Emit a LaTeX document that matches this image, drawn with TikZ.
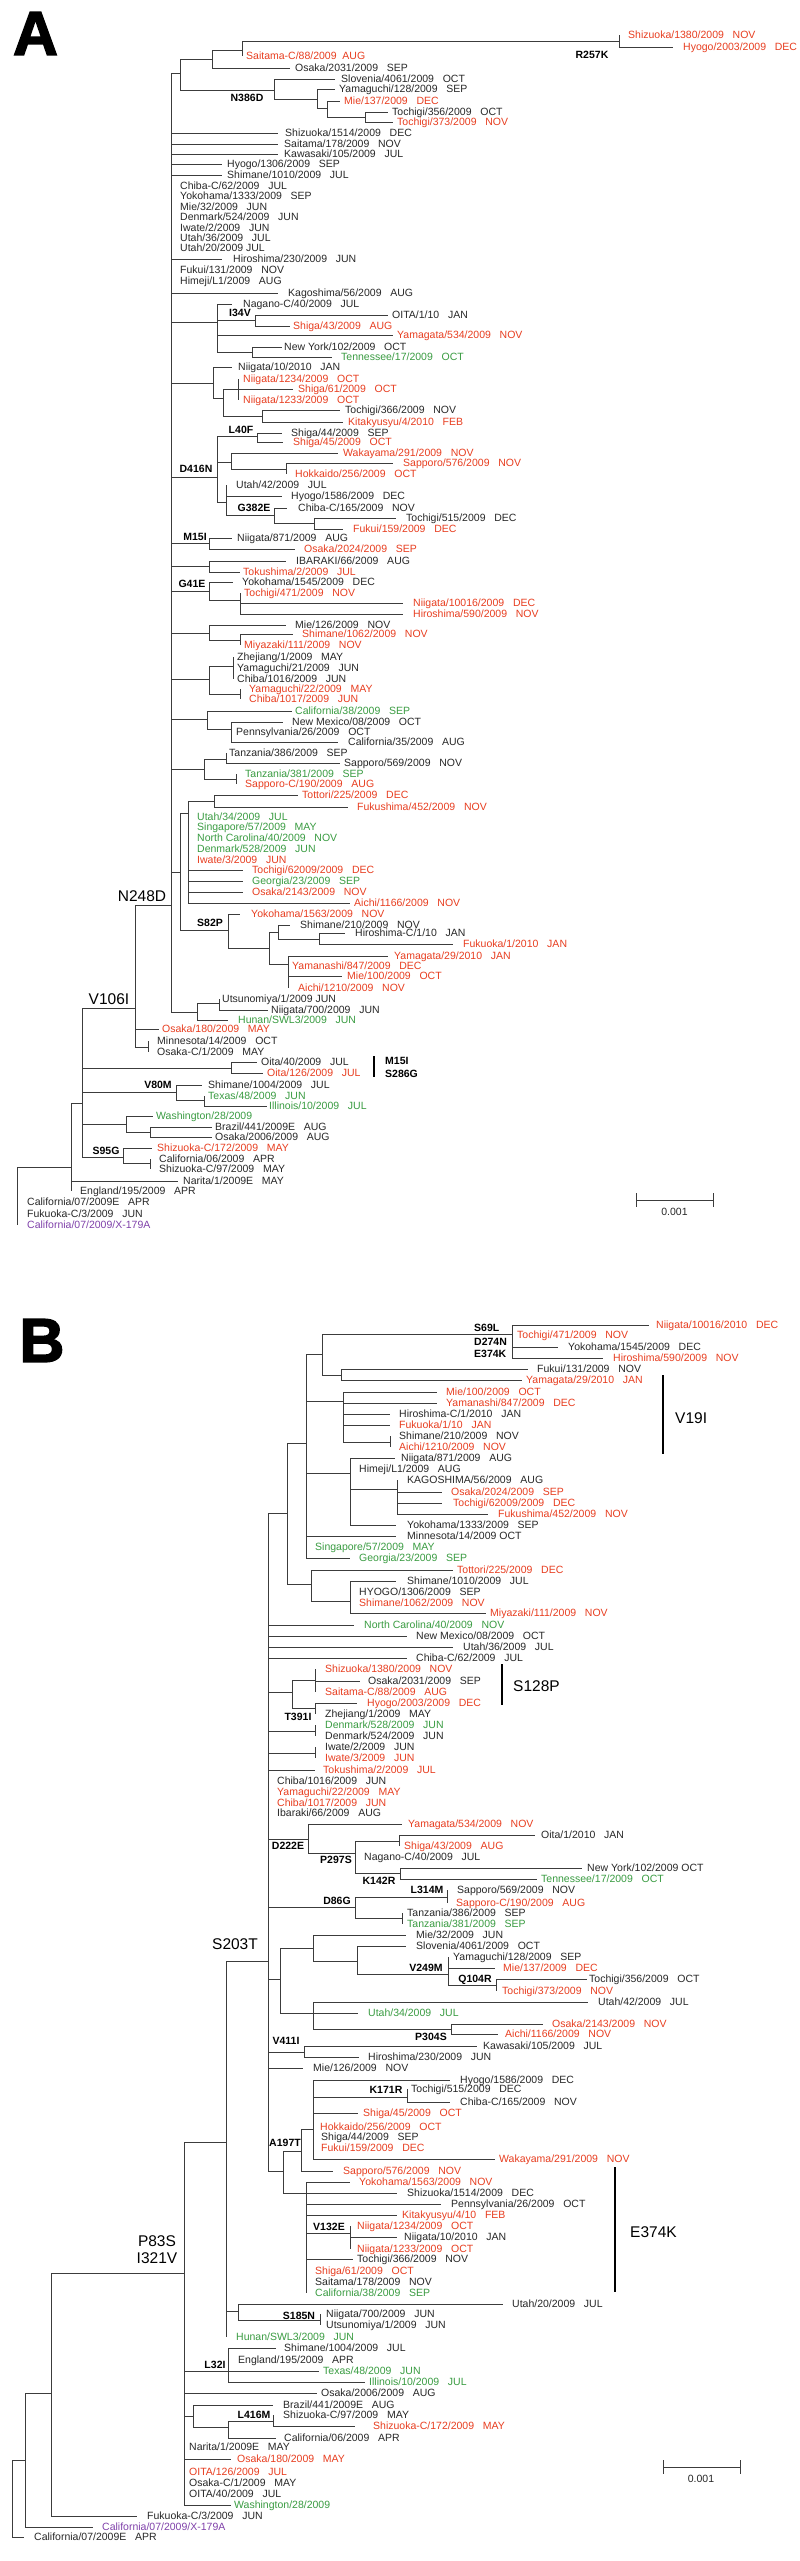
\documentclass[tikz,border=0pt]{standalone}
\usepackage{fontspec}
\setmainfont{Liberation Sans}
\newfontfamily\heavyfont{Liberation Sans Bold}[FakeBold=2.5]
\definecolor{isored}{RGB}{232,62,32}
\definecolor{isogreen}{RGB}{58,156,66}
\definecolor{isopurple}{RGB}{128,66,170}
\definecolor{isotext}{RGB}{40,40,40}
\definecolor{branch}{RGB}{60,60,60}

\tikzset{
  br/.style={draw=branch, line width=0.9pt},
  iso/.style={anchor=west, inner sep=0pt, text height=7.5pt, text depth=0pt,
              font=\fontsize{10.5}{12}\selectfont, text=isotext},
  redtip/.style={text=isored},
  greentip/.style={text=isogreen},
  purpletip/.style={text=isopurple},
  mut/.style={inner sep=0pt, text height=7.6pt, text depth=0pt,
              font=\bfseries\fontsize{10.5}{12}\selectfont},
  bigmut/.style={inner sep=0pt, text height=11pt, text depth=0pt,
                 font=\fontsize{15.5}{18}\selectfont},
  barline/.style={draw=black, line width=2pt},
  scalebar/.style={draw=branch, line width=1pt},
  panel/.style={inner sep=0pt, font=\heavyfont\fontsize{62}{62}\selectfont}
}

% internal node: parent, name, x, y
\newcommand{\subtree}[4]{\coordinate (#2) at (#3,#4); \draw[br] (#1) |- (#2);}
% tip: parent, x of branch end, y, x of text, style, text
\newcounter{tipno}
\newcommand{\tipnode}[6]{\stepcounter{tipno}%
  \coordinate (t\thetipno) at (#2,#3);
  \node[iso,#5] (t\thetipno-l) at (#4,#3) {#6};
  \draw[br] (#1) |- (t\thetipno);}

\begin{document}
\begin{tikzpicture}[x=1pt,y=-1pt]
\fill[white] (0,0) rectangle (800,2561);

%%%%%%%%%%%%%%%% panel A
\node[panel] (labA) at (35.5,33.5) {A};
\coordinate (a0) at (17,1196);
\subtree{a0}{a71}{71}{1167}
\subtree{a71}{a82}{82}{1103}
\subtree{a82}{a135}{135}{1008}
\subtree{a135}{a171}{171}{905}
\node[bigmut] (mN248D) at (142,896) {N248D};
\node[bigmut] (mV106I) at (109,999) {V106I};

% top clade
\subtree{a171}{a180}{180}{73}
\subtree{a180}{a212}{212}{59}
\subtree{a212}{a242}{242}{50}
\subtree{a242}{a619}{619}{41}
\tipnode{a619}{619}{35}{628}{redtip}{Shizuoka/1380/2009~~~NOV}
\tipnode{a619}{673}{47}{683}{redtip}{Hyogo/2003/2009~~~DEC}
\node[mut] (mR257K) at (592,55) {R257K};
\tipnode{a242}{242}{56}{246}{redtip}{Saitama-C/88/2009~~AUG}
\tipnode{a212}{290}{68}{295}{}{Osaka/2031/2009~~~SEP}
\subtree{a180}{a274}{274}{90}
\node[mut] (mN386D) at (247,98) {N386D};
\tipnode{a274}{335}{79}{341}{}{Slovenia/4061/2009~~~OCT}
\subtree{a274}{a317}{317}{99}
\tipnode{a317}{335}{89}{339}{}{Yamaguchi/128/2009~~~SEP}
\subtree{a317}{a327}{327}{108}
\tipnode{a327}{340}{101}{344}{redtip}{Mie/137/2009~~~DEC}
\subtree{a327}{a365}{365}{117}
\tipnode{a365}{388}{112}{392}{}{Tochigi/356/2009~~~OCT}
\tipnode{a365}{393}{122}{397}{redtip}{Tochigi/373/2009~~~NOV}

% polytomy
\tipnode{a171}{278}{133}{285}{}{Shizuoka/1514/2009~~~DEC}
\tipnode{a171}{278}{144}{284}{}{Saitama/178/2009~~~NOV}
\tipnode{a171}{278}{154}{284}{}{Kawasaki/105/2009~~~JUL}
\tipnode{a171}{222}{164}{227}{}{Hyogo/1306/2009~~~SEP}
\tipnode{a171}{222}{175}{227}{}{Shimane/1010/2009~~~JUL}
\tipnode{a171}{171}{186}{180}{}{Chiba-C/62/2009~~~JUL}
\tipnode{a171}{171}{196}{180}{}{Yokohama/1333/2009~~~SEP}
\tipnode{a171}{171}{207}{180}{}{Mie/32/2009~~~JUN}
\tipnode{a171}{171}{217}{180}{}{Denmark/524/2009~~~JUN}
\tipnode{a171}{171}{228}{180}{}{Iwate/2/2009~~~JUN}
\tipnode{a171}{171}{238}{180}{}{Utah/36/2009~~~JUL}
\tipnode{a171}{171}{248}{180}{}{Utah/20/2009 JUL}
\tipnode{a171}{222}{259}{233}{}{Hiroshima/230/2009~~~JUN}
\tipnode{a171}{171}{270}{180}{}{Fukui/131/2009~~~NOV}
\tipnode{a171}{171}{281}{180}{}{Himeji/L1/2009~~~AUG}
\tipnode{a171}{278}{293}{288}{}{Kagoshima/56/2009~~~AUG}

% I34V
\subtree{a171}{a217}{217}{322}
\tipnode{a217}{232}{304}{243}{}{Nagano-C/40/2009~~~JUL}
\subtree{a217}{a255}{255}{320}
\node[mut] (mI34V) at (240,313) {I34V};
\tipnode{a255}{388}{315}{392}{}{OITA/1/10~~~JAN}
\tipnode{a255}{290}{326}{293}{redtip}{Shiga/43/2009~~~AUG}
\tipnode{a217}{393}{335}{397}{redtip}{Yamagata/534/2009~~~NOV}
\subtree{a217}{a252}{252}{352}
\tipnode{a252}{282}{347}{284}{}{New York/102/2009~~~OCT}
\tipnode{a252}{332}{357}{341}{greentip}{Tennessee/17/2009~~~OCT}

\subtree{a171}{a213}{213}{383}
\tipnode{a213}{232}{367}{238}{}{Niigata/10/2010~~~JAN}
\subtree{a213}{a223}{223}{398}
\subtree{a223}{a238}{238}{389}
\tipnode{a238}{238}{379}{243}{redtip}{Niigata/1234/2009~~~OCT}
\tipnode{a238}{293}{389}{298}{redtip}{Shiga/61/2009~~~OCT}
\tipnode{a238}{238}{400}{243}{redtip}{Niigata/1233/2009~~~OCT}
\subtree{a223}{a262}{262}{416}
\tipnode{a262}{340}{410}{345}{}{Tochigi/366/2009~~~NOV}
\tipnode{a262}{343}{422}{348}{redtip}{Kitakyusyu/4/2010~~~FEB}

% D416N
\subtree{a171}{a217b}{217}{477}
\node[mut] (mD416N) at (196,469) {D416N};
\subtree{a217b}{a257}{257}{436}
\node[mut] (mL40F) at (241,430) {L40F};
\tipnode{a257}{282}{433}{291}{}{Shiga/44/2009~~~SEP}
\tipnode{a257}{283}{442}{293}{redtip}{Shiga/45/2009~~~OCT}
\subtree{a217b}{a231}{231}{462}
\tipnode{a231}{338}{453}{343}{redtip}{Wakayama/291/2009~~~NOV}
\subtree{a231}{a286}{286}{469}
\tipnode{a286}{393}{463}{403}{redtip}{Sapporo/576/2009~~~NOV}
\tipnode{a286}{286}{474}{295}{redtip}{Hokkaido/256/2009~~~OCT}
\subtree{a217b}{a226}{226}{502}
\tipnode{a226}{226}{485}{236}{}{Utah/42/2009~~~JUL}
\tipnode{a226}{282}{496}{291}{}{Hyogo/1586/2009~~~DEC}
\subtree{a226}{a274b}{274}{515}
\node[mut] (mG382E) at (254,508) {G382E};
\tipnode{a274b}{287}{508}{298}{}{Chiba-C/165/2009~~~NOV}
\subtree{a274b}{a314}{314}{523}
\tipnode{a314}{396}{518}{406}{}{Tochigi/515/2009~~~DEC}
\tipnode{a314}{343}{529}{353}{redtip}{Fukui/159/2009~~~DEC}

% M15I
\subtree{a171}{a209}{209}{543}
\node[mut] (mM15I) at (195,537) {M15I};
\tipnode{a209}{232}{538}{237}{}{Niigata/871/2009~~~AUG}
\tipnode{a209}{295}{549}{304}{redtip}{Osaka/2024/2009~~~SEP}
\subtree{a171}{a209b}{209}{566}
\tipnode{a209b}{286}{561}{296}{}{IBARAKI/66/2009~~~AUG}
\tipnode{a209b}{240}{572}{243}{redtip}{Tokushima/2/2009~~~JUL}

% G41E
\subtree{a171}{a209c}{209}{591}
\node[mut] (mG41E) at (192,584) {G41E};
\tipnode{a209c}{233}{582}{242}{}{Yokohama/1545/2009~~~DEC}
\subtree{a209c}{a240}{240}{600}
\tipnode{a240}{240}{593}{244}{redtip}{Tochigi/471/2009~~~NOV}
\tipnode{a240}{403}{603}{413}{redtip}{Niigata/10016/2009~~~DEC}
\tipnode{a240}{403}{614}{413}{redtip}{Hiroshima/590/2009~~~NOV}

\subtree{a171}{a209d}{209}{633}
\tipnode{a209d}{286}{625}{295}{}{Mie/126/2009~~~NOV}
\subtree{a209d}{a240b}{240}{640}
\tipnode{a240b}{293}{634}{302}{redtip}{Shimane/1062/2009~~~NOV}
\tipnode{a240b}{240}{645}{244}{redtip}{Miyazaki/111/2009~~~NOV}

\subtree{a171}{a209e}{209}{679}
\subtree{a209e}{a233}{233}{666}
\tipnode{a233}{233}{657}{237}{}{Zhejiang/1/2009~~~MAY}
\tipnode{a233}{233}{668}{237}{}{Yamaguchi/21/2009~~~JUN}
\tipnode{a233}{233}{679}{237}{}{Chiba/1016/2009~~~JUN}
\subtree{a209e}{a240c}{240}{694}
\tipnode{a240c}{240}{689}{249}{redtip}{Yamaguchi/22/2009~~~MAY}
\tipnode{a240c}{240}{699}{249}{redtip}{Chiba/1017/2009~~~JUN}

\subtree{a171}{a207}{207}{719}
\tipnode{a207}{292}{711}{295}{greentip}{California/38/2009~~~SEP}
\subtree{a207}{a231b}{231}{729}
\tipnode{a231b}{283}{722}{292}{}{New Mexico/08/2009~~~OCT}
\tipnode{a231b}{231}{732}{236}{}{Pennsylvania/26/2009~~~OCT}
\tipnode{a231b}{338}{742}{348}{}{California/35/2009~~~AUG}

\subtree{a171}{a204}{204}{769}
\subtree{a204}{a226b}{226}{759}
\tipnode{a226b}{226}{753}{229}{}{Tanzania/386/2009~~~SEP}
\tipnode{a226b}{340}{763}{344}{}{Sapporo/569/2009~~~NOV}
\subtree{a204}{a236}{236}{779}
\tipnode{a236}{236}{774}{245}{greentip}{Tanzania/381/2009~~~SEP}
\tipnode{a236}{236}{784}{245}{redtip}{Sapporo-C/190/2009~~~AUG}

\subtree{a171}{a180b}{180}{872}
\subtree{a180b}{a188}{188}{813}
\subtree{a188}{a214}{214}{801}
\tipnode{a214}{298}{795}{302}{redtip}{Tottori/225/2009~~~DEC}
\tipnode{a214}{348}{807}{357}{redtip}{Fukushima/452/2009~~~NOV}
\tipnode{a188}{188}{817}{197}{greentip}{Utah/34/2009~~~JUL}
\tipnode{a188}{188}{827}{197}{greentip}{Singapore/57/2009~~~MAY}
\tipnode{a188}{188}{838}{197}{greentip}{North Carolina/40/2009~~~NOV}
\tipnode{a188}{188}{849}{197}{greentip}{Denmark/528/2009~~~JUN}
\tipnode{a188}{188}{860}{197}{redtip}{Iwate/3/2009~~~JUN}
\tipnode{a188}{243}{870}{252}{redtip}{Tochigi/62009/2009~~~DEC}
\tipnode{a188}{243}{881}{252}{greentip}{Georgia/23/2009~~~SEP}
\tipnode{a188}{243}{892}{252}{redtip}{Osaka/2143/2009~~~NOV}
\tipnode{a188}{350}{903}{354}{redtip}{Aichi/1166/2009~~~NOV}

% S82P
\subtree{a180b}{a228}{228}{930}
\node[mut] (mS82P) at (210,923) {S82P};
\tipnode{a228}{240}{914}{251}{redtip}{Yokohama/1563/2009~~~NOV}
\subtree{a228}{a269}{269}{948}
\subtree{a269}{a278}{278}{932}
\tipnode{a278}{290}{925}{300}{}{Shimane/210/2009~~~NOV}
\subtree{a278}{a319}{319}{939}
\tipnode{a319}{345}{933}{355}{}{Hiroshima-C/1/10~~~JAN}
\tipnode{a319}{453}{944}{463}{redtip}{Fukuoka/1/2010~~~JAN}
\subtree{a269}{a288}{288}{964}
\tipnode{a288}{388}{956}{394}{redtip}{Yamagata/29/2010~~~JAN}
\tipnode{a288}{288}{966}{292}{redtip}{Yamanashi/847/2009~~~DEC}
\tipnode{a288}{342}{976}{347}{redtip}{Mie/100/2009~~~OCT}
\tipnode{a288}{288}{988}{298}{redtip}{Aichi/1210/2009~~~NOV}

\subtree{a171}{a197}{197}{1012}
\subtree{a197}{a219}{219}{1003}
\tipnode{a219}{219}{999}{222}{}{Utsunomiya/1/2009 JUN}
\tipnode{a219}{268}{1010}{271}{}{Niigata/700/2009~~~JUN}
\tipnode{a197}{228}{1020}{238}{greentip}{Hunan/SWL3/2009~~~JUN}

\tipnode{a135}{159}{1029}{162}{redtip}{Osaka/180/2009~~~MAY}
\subtree{a135}{a148}{148}{1047}
\tipnode{a148}{148}{1041}{157}{}{Minnesota/14/2009~~~OCT}
\tipnode{a148}{148}{1052}{157}{}{Osaka-C/1/2009~~~MAY}

\subtree{a82}{a231c}{231}{1068}
\tipnode{a231c}{257}{1062}{261}{}{Oita/40/2009~~~JUL}
\tipnode{a231c}{263}{1073}{267}{redtip}{Oita/126/2009~~~JUL}
\coordinate (barA1) at (374,1056);
\coordinate (barA2) at (374,1077);
\draw[barline] (barA1) -- (barA2);
\node[mut, anchor=west] (mM15Ib) at (385,1061) {M15I};
\node[mut, anchor=west] (mS286G) at (385,1074) {S286G};
\subtree{a82}{a176}{176}{1092}
\node[mut] (mV80M) at (158,1085) {V80M};
\tipnode{a176}{202}{1085}{208}{}{Shimane/1004/2009~~~JUL}
\subtree{a176}{a204b}{204}{1100}
\tipnode{a204b}{204}{1096}{208}{greentip}{Texas/48/2009~~~JUN}
\tipnode{a204b}{267}{1106}{269}{greentip}{Illinois/10/2009~~~JUL}
\subtree{a82}{a126}{126}{1124}
\tipnode{a126}{153}{1116}{156}{greentip}{Washington/28/2009}
\subtree{a126}{a150}{150}{1132}
\tipnode{a150}{212}{1127}{215}{}{Brazil/441/2009E~~~AUG}
\tipnode{a150}{212}{1137}{215}{}{Osaka/2006/2009~~~AUG}
\subtree{a82}{a123}{123}{1157}
\node[mut] (mS95G) at (106,1151) {S95G};
\tipnode{a123}{152}{1148}{157}{redtip}{Shizuoka-C/172/2009~~~MAY}
\subtree{a123}{a150b}{150}{1163}
\tipnode{a150b}{150}{1159}{159}{}{California/06/2009~~~APR}
\tipnode{a150b}{150}{1169}{159}{}{Shizuoka-C/97/2009~~~MAY}
\tipnode{a71}{178}{1181}{183}{}{Narita/1/2009E~~~MAY}
\tipnode{a71}{71}{1191}{80}{}{England/195/2009~~~APR}
\tipnode{a0}{17}{1202}{27}{}{California/07/2009E~~~APR}
\tipnode{a0}{17}{1214}{27}{}{Fukuoka-C/3/2009~~~JUN}
\tipnode{a0}{17}{1225}{27}{purpletip}{California/07/2009/X-179A}

% scale A
\draw[scalebar] (636,1193) -- (636,1207) (636,1200) -- (713,1200) (713,1193) -- (713,1207);
\node[iso, anchor=center] (scaleA) at (674.5,1212) {0.001};

%%%%%%%%%%%%%%%% panel B
\node[panel] (labB) at (42,1340.5) {B};
\coordinate (b0) at (12,2500);
\subtree{b0}{b25}{25}{2460}
\tipnode{b0}{24}{2537}{34}{}{California/07/2009E~~~APR}
\subtree{b25}{b51}{51}{2393}
\tipnode{b25}{93}{2527}{102}{purpletip}{California/07/2009/X-179A}
\subtree{b51}{b184}{184}{2273}
\tipnode{b51}{137}{2516}{147}{}{Fukuoka-C/3/2009~~~JUN}
\node[bigmut] (mP83S) at (157,2241) {P83S};
\node[bigmut] (mI321V) at (157,2258) {I321V};
\subtree{b184}{b226}{226}{2142}
\subtree{b226}{b268}{268}{1961}
\node[bigmut] (mS203T) at (235,1944) {S203T};

\subtree{b268}{b287}{287}{1513}
\subtree{b287}{b306}{306}{1443}
\subtree{b306}{b322}{322}{1354}
\subtree{b322}{b512}{512}{1334}
\node[mut, anchor=west] (mS69L) at (474,1328) {S69L};
\node[mut, anchor=west] (mD274N) at (474,1342) {D274N};
\node[mut, anchor=west] (mE374Ka) at (474,1354) {E374K};
\tipnode{b512}{649}{1325}{656}{redtip}{Niigata/10016/2010~~~DEC}
\tipnode{b512}{512}{1335}{517}{redtip}{Tochigi/471/2009~~~NOV}
\tipnode{b512}{558}{1347}{568}{}{Yokohama/1545/2009~~~DEC}
\tipnode{b512}{603}{1358}{613}{redtip}{Hiroshima/590/2009~~~NOV}
\subtree{b322}{b341}{341}{1375}
\tipnode{b341}{528}{1369}{537}{}{Fukui/131/2009~~~NOV}
\tipnode{b341}{522}{1380}{526}{redtip}{Yamagata/29/2010~~~JAN}
\subtree{b306}{b343}{343}{1401}
\tipnode{b343}{437}{1392}{446}{redtip}{Mie/100/2009~~~OCT}
\tipnode{b343}{437}{1403}{446}{redtip}{Yamanashi/847/2009~~~DEC}
\tipnode{b343}{390}{1414}{399}{}{Hiroshima-C/1/2010~~~JAN}
\tipnode{b343}{390}{1425}{399}{redtip}{Fukuoka/1/10~~~JAN}
\subtree{b343}{b390}{390}{1442}
\tipnode{b390}{390}{1436}{399}{}{Shimane/210/2009~~~NOV}
\tipnode{b390}{390}{1447}{399}{redtip}{Aichi/1210/2009~~~NOV}
\coordinate (barB1) at (663,1375);
\coordinate (barB2) at (663,1454);
\draw[barline] (barB1) -- (barB2);
\node[bigmut, anchor=west] (mV19I) at (675,1418) {V19I};
\subtree{b306}{b350}{350}{1473}
\tipnode{b350}{395}{1458}{401}{}{Niigata/871/2009~~~AUG}
\tipnode{b350}{350}{1469}{359}{}{Himeji/L1/2009~~~AUG}
\subtree{b350}{b397}{397}{1489}
\tipnode{b397}{397}{1480}{407}{}{KAGOSHIMA/56/2009~~~AUG}
\tipnode{b397}{442}{1492}{451}{redtip}{Osaka/2024/2009~~~SEP}
\tipnode{b397}{442}{1503}{453}{redtip}{Tochigi/62009/2009~~~DEC}
\tipnode{b397}{488}{1514}{498}{redtip}{Fukushima/452/2009~~~NOV}
\tipnode{b350}{396}{1525}{407}{}{Yokohama/1333/2009~~~SEP}
\tipnode{b306}{396}{1536}{407}{}{Minnesota/14/2009 OCT}
\tipnode{b306}{306}{1547}{315}{greentip}{Singapore/57/2009~~~MAY}
\tipnode{b306}{350}{1558}{359}{greentip}{Georgia/23/2009~~~SEP}
\subtree{b287}{b311}{311}{1584}
\tipnode{b311}{453}{1570}{457}{redtip}{Tottori/225/2009~~~DEC}
\subtree{b311}{b350b}{350}{1601}
\tipnode{b350b}{396}{1581}{407}{}{Shimane/1010/2009~~~JUL}
\tipnode{b350b}{350}{1592}{359}{}{HYOGO/1306/2009~~~SEP}
\tipnode{b350b}{350}{1603}{359}{redtip}{Shimane/1062/2009~~~NOV}
\tipnode{b350b}{486}{1613}{490}{redtip}{Miyazaki/111/2009~~~NOV}

\tipnode{b268}{354}{1625}{364}{greentip}{North Carolina/40/2009~~~NOV}
\tipnode{b268}{407}{1636}{416}{}{New Mexico/08/2009~~~OCT}
\tipnode{b268}{453}{1647}{463}{}{Utah/36/2009~~~JUL}
\tipnode{b268}{407}{1658}{416}{}{Chiba-C/62/2009~~~JUL}
\subtree{b268}{b292}{292}{1692}
\subtree{b292}{b315}{315}{1680}
\tipnode{b315}{315}{1669}{325}{redtip}{Shizuoka/1380/2009~~~NOV}
\tipnode{b315}{360}{1681}{368}{}{Osaka/2031/2009~~~SEP}
\tipnode{b315}{315}{1692}{325}{redtip}{Saitama-C/88/2009~~~AUG}
\subtree{b292}{b315b}{315}{1708}
\node[mut] (mT391I) at (298,1717) {T391I};
\tipnode{b315b}{357}{1703}{367}{redtip}{Hyogo/2003/2009~~~DEC}
\tipnode{b315b}{315}{1714}{325}{}{Zhejiang/1/2009~~~MAY}
\coordinate (barB3) at (502,1664);
\coordinate (barB4) at (502,1705);
\draw[barline] (barB3) -- (barB4);
\node[bigmut, anchor=west] (mS128P) at (513,1686) {S128P};
\subtree{b268}{b315c}{315}{1731}
\tipnode{b315c}{315}{1725}{325}{greentip}{Denmark/528/2009~~~JUN}
\tipnode{b315c}{315}{1736}{325}{}{Denmark/524/2009~~~JUN}
\subtree{b268}{b315d}{315}{1753}
\tipnode{b315d}{315}{1747}{325}{}{Iwate/2/2009~~~JUN}
\tipnode{b315d}{315}{1758}{325}{redtip}{Iwate/3/2009~~~JUN}
\tipnode{b268}{315}{1770}{323}{redtip}{Tokushima/2/2009~~~JUL}
\tipnode{b268}{268}{1781}{277}{}{Chiba/1016/2009~~~JUN}
\tipnode{b268}{268}{1792}{277}{redtip}{Yamaguchi/22/2009~~~MAY}
\tipnode{b268}{268}{1803}{277}{redtip}{Chiba/1017/2009~~~JUN}
\tipnode{b268}{268}{1813}{277}{}{Ibaraki/66/2009~~~AUG}

\subtree{b268}{b308}{308}{1839}
\node[mut] (mD222E) at (288,1846) {D222E};
\tipnode{b308}{402}{1824}{408}{redtip}{Yamagata/534/2009~~~NOV}
\subtree{b308}{b355}{355}{1853}
\node[mut] (mP297S) at (336,1860) {P297S};
\subtree{b355}{b399}{399}{1841}
\tipnode{b399}{535}{1835}{541}{}{Oita/1/2010~~~JAN}
\tipnode{b399}{399}{1846}{404}{redtip}{Shiga/43/2009~~~AUG}
\tipnode{b355}{355}{1857}{364}{}{Nagano-C/40/2009~~~JUL}
\subtree{b355}{b400}{400}{1873}
\node[mut] (mK142R) at (379,1881) {K142R};
\tipnode{b400}{582}{1868}{587}{}{New York/102/2009 OCT}
\tipnode{b400}{537}{1879}{541}{greentip}{Tennessee/17/2009~~~OCT}

\subtree{b268}{b355b}{355}{1907}
\node[mut] (mD86G) at (337,1901) {D86G};
\subtree{b355b}{b447}{447}{1897}
\node[mut] (mL314M) at (427,1890) {L314M};
\tipnode{b447}{447}{1890}{457}{}{Sapporo/569/2009~~~NOV}
\tipnode{b447}{447}{1903}{456}{redtip}{Sapporo-C/190/2009~~~AUG}
\subtree{b355b}{b402}{402}{1918}
\tipnode{b402}{402}{1913}{407}{}{Tanzania/386/2009~~~SEP}
\tipnode{b402}{402}{1924}{407}{greentip}{Tanzania/381/2009~~~SEP}

\subtree{b268}{b280}{280}{1979}
\subtree{b280}{b313}{313}{1948}
\tipnode{b313}{406}{1935}{416}{}{Mie/32/2009~~~JUN}
\subtree{b313}{b357}{357}{1961}
\tipnode{b357}{406}{1946}{416}{}{Slovenia/4061/2009~~~OCT}
\subtree{b357}{b448}{448}{1974}
\node[mut] (mV249M) at (426,1968) {V249M};
\tipnode{b448}{448}{1957}{453}{}{Yamaguchi/128/2009~~~SEP}
\tipnode{b448}{495}{1968}{503}{redtip}{Mie/137/2009~~~DEC}
\subtree{b448}{b496}{496}{1985}
\node[mut] (mQ104R) at (475,1979) {Q104R};
\tipnode{b496}{587}{1979}{589}{}{Tochigi/356/2009~~~OCT}
\tipnode{b496}{496}{1991}{502}{redtip}{Tochigi/373/2009~~~NOV}
\subtree{b280}{b313b}{313}{2013}
\tipnode{b313b}{588}{2002}{598}{}{Utah/42/2009~~~JUL}
\tipnode{b313b}{358}{2013}{368}{greentip}{Utah/34/2009~~~JUL}
\subtree{b313b}{b451}{451}{2029}
\node[mut] (mP304S) at (431,2037) {P304S};
\tipnode{b451}{543}{2024}{552}{redtip}{Osaka/2143/2009~~~NOV}
\tipnode{b451}{498}{2034}{505}{redtip}{Aichi/1166/2009~~~NOV}

\subtree{b268}{b304}{304}{2052}
\node[mut] (mV411I) at (286,2041) {V411I};
\tipnode{b304}{477}{2046}{483}{}{Kawasaki/105/2009~~~JUL}
\tipnode{b304}{359}{2057}{368}{}{Hiroshima/230/2009~~~JUN}
\tipnode{b268}{303}{2068}{313}{}{Mie/126/2009~~~NOV}

\subtree{b268}{b283}{283}{2171}
\node[mut] (mA197T) at (285,2143) {A197T};
\subtree{b283}{b301}{301}{2151}
\subtree{b301}{b313c}{313}{2129}
\tipnode{b313c}{450}{2080}{460}{}{Hyogo/1586/2009~~~DEC}
\subtree{b313c}{b407}{407}{2097}
\node[mut] (mK171R) at (386,2090) {K171R};
\tipnode{b407}{407}{2089}{411}{}{Tochigi/515/2009~~~DEC}
\tipnode{b407}{450}{2102}{460}{}{Chiba-C/165/2009~~~NOV}
\tipnode{b313c}{358}{2113}{363}{redtip}{Shiga/45/2009~~~OCT}
\tipnode{b313c}{313}{2127}{320}{redtip}{Hokkaido/256/2009~~~OCT}
\tipnode{b313c}{313}{2137}{321}{}{Shiga/44/2009~~~SEP}
\tipnode{b313c}{313}{2148}{321}{redtip}{Fukui/159/2009~~~DEC}
\tipnode{b313c}{495}{2159}{499}{redtip}{Wakayama/291/2009~~~NOV}
\tipnode{b301}{333}{2171}{343}{redtip}{Sapporo/576/2009~~~NOV}
\subtree{b283}{b306b}{306}{2193}
\tipnode{b306b}{350}{2182}{359}{redtip}{Yokohama/1563/2009~~~NOV}
\tipnode{b306b}{397}{2193}{407}{}{Shizuoka/1514/2009~~~DEC}
\tipnode{b306b}{441}{2204}{451}{}{Pennsylvania/26/2009~~~OCT}
\tipnode{b306b}{397}{2215}{402}{redtip}{Kitakyusyu/4/10~~~FEB}
\subtree{b306b}{b350c}{350}{2233}
\node[mut] (mV132E) at (329,2227) {V132E};
\tipnode{b350c}{350}{2226}{357}{redtip}{Niigata/1234/2009~~~OCT}
\tipnode{b350c}{397}{2237}{404}{}{Niigata/10/2010~~~JAN}
\tipnode{b350c}{350}{2249}{357}{redtip}{Niigata/1233/2009~~~OCT}
\tipnode{b306b}{353}{2259}{357}{}{Tochigi/366/2009~~~NOV}
\tipnode{b306b}{306}{2271}{315}{redtip}{Shiga/61/2009~~~OCT}
\tipnode{b306b}{306}{2282}{315}{}{Saitama/178/2009~~~NOV}
\tipnode{b306b}{306}{2293}{315}{greentip}{California/38/2009~~~SEP}
\coordinate (barB5) at (615,2167);
\coordinate (barB6) at (615,2292);
\draw[barline] (barB5) -- (barB6);
\node[bigmut, anchor=west] (mE374Kb) at (630,2232) {E374K};

\subtree{b226}{b238}{238}{2311}
\tipnode{b238}{503}{2304}{512}{}{Utah/20/2009~~~JUL}
\subtree{b238}{b320}{320}{2320}
\node[mut] (mS185N) at (299,2316) {S185N};
\tipnode{b320}{320}{2314}{326}{}{Niigata/700/2009~~~JUN}
\tipnode{b320}{320}{2325}{326}{}{Utsunomiya/1/2009~~~JUN}
\tipnode{b226}{226}{2337}{236}{greentip}{Hunan/SWL3/2009~~~JUN}

\subtree{b184}{b228}{228}{2371}
\node[mut] (mL32I) at (215,2365) {L32I};
\tipnode{b228}{276}{2348}{284}{}{Shimane/1004/2009~~~JUL}
\tipnode{b228}{228}{2360}{238}{}{England/195/2009~~~APR}
\tipnode{b228}{319}{2371}{323}{greentip}{Texas/48/2009~~~JUN}
\tipnode{b228}{365}{2382}{369}{greentip}{Illinois/10/2009~~~JUL}
\tipnode{b184}{317}{2393}{321}{}{Osaka/2006/2009~~~AUG}
\subtree{b184}{b193}{193}{2416}
\tipnode{b193}{273}{2405}{283}{}{Brazil/441/2009E~~~AUG}
\subtree{b193}{b228b}{228}{2427}
\subtree{b228b}{b273}{273}{2421}
\node[mut] (mL416M) at (254,2415) {L416M};
\tipnode{b273}{273}{2415}{283}{}{Shizuoka-C/97/2009~~~MAY}
\tipnode{b273}{355}{2426}{373}{redtip}{Shizuoka-C/172/2009~~~MAY}
\tipnode{b228b}{276}{2438}{284}{}{California/06/2009~~~APR}
\tipnode{b184}{184}{2447}{189}{}{Narita/1/2009E~~~MAY}
\tipnode{b184}{231}{2459}{237}{redtip}{Osaka/180/2009~~~MAY}
\tipnode{b184}{184}{2472}{189}{redtip}{OITA/126/2009~~~JUL}
\tipnode{b184}{184}{2483}{189}{}{Osaka-C/1/2009~~~MAY}
\tipnode{b184}{184}{2494}{189}{}{OITA/40/2009~~~JUL}
\tipnode{b184}{231}{2505}{234}{greentip}{Washington/28/2009}

% scale B
\draw[scalebar] (663,2460) -- (663,2474) (663,2467) -- (740,2467) (740,2460) -- (740,2474);
\node[iso, anchor=center] (scaleB) at (701,2479) {0.001};
\end{tikzpicture}
\end{document}
